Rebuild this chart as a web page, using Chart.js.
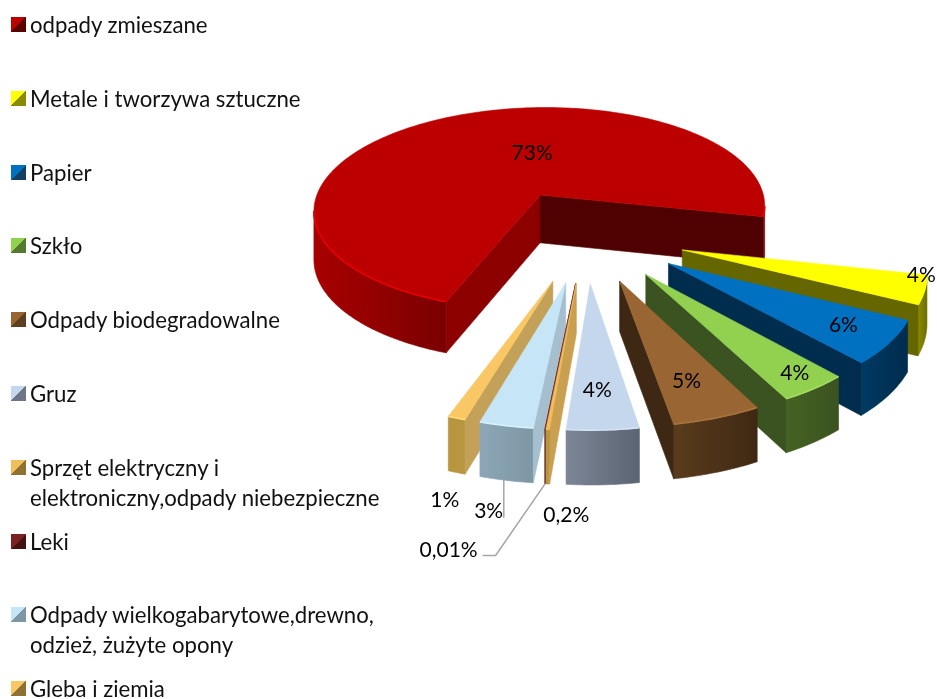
<!DOCTYPE html>
<html>
<head>
<meta charset="utf-8">
<title>Odpady</title>
<script src="https://cdn.jsdelivr.net/npm/chart.js@4"></script>
<style>
  html, body { margin: 0; background: #fff; overflow: hidden; }
  #wrap { position: relative; width: 937px; height: 699px; }
  #pie { position: absolute; left: 0; top: 0; }
  .item { position: absolute; left: 30px; font: 22.2px/30px Lato, sans-serif; color: #111; white-space: pre; }
  .item i { position: absolute; left: -19px; top: 7px; width: 15px; height: 15px; }
</style>
</head>
<body>
<div id="wrap"><canvas id="pie" width="937" height="699"></canvas></div>
<script>
const categories = [
  'odpady zmieszane',
  'Metale i tworzywa sztuczne',
  'Papier',
  'Szkło',
  'Odpady biodegradowalne',
  'Gruz',
  'Sprzęt elektryczny i\nelektroniczny,odpady niebezpieczne',
  'Leki',
  'Odpady wielkogabarytowe,drewno,\nodzież, żużyte opony',
  'Gleba i ziemia'
];
const shares = [73, 4, 6, 4, 5, 4, 0.2, 0.01, 3, 1];

// colours of each slice: top face, radial wall, outer wall (left and right end), front rim
const topColors = ['#BC0000', '#FFFF00', '#0070C0', '#92D050', '#996633', '#C5D7EC', '#F2BE5C', '#7A2222', '#C6E6F8', '#F9C764'];
const startWalls = ['#8C0000', '#666600', '#002C4D', '#3A5320', '#3F2813', '#7F8A9A', '#C9A050', '#5A1818', '#A5BFCF', '#C4A158'];
const endWalls = ['#4F0000', '#666600', '#002C4D', '#3A5320', '#3F2813', '#7F8A9A', '#7A2222', '#5A1818', '#A5BFCF', '#C4A158'];
const outerLeft = ['#A80000', '#8A8A00', '#003A63', '#466222', '#5A3C1D', '#7C8696', '#B8963F', '#5A1818', '#8CA6B7', '#B8963F'];
const outerRight = ['#7A0000', '#6E6E00', '#002C4D', '#3A5320', '#3F2813', '#5A6472', '#B8963F', '#5A1818', '#7E97A5', '#B8963F'];
const rimColors = ['#E80000', '#FFFF00', '#0070C0', '#A2DC62', '#A8743E', '#D5E3F2', '#F2BE5C', '#7A2222', '#D8F0FC', '#FFDC80'];
const swatchDark = ['#5A0000', '#8A8A00', '#133F63', '#55782F', '#5E3F1F', '#6C7686', '#8F7232', '#451212', '#7E97A5', '#8F7232'];

// where each percentage sits, measured from the tip of its slice
const labelNudges = [[-8, -42], [239, 25], [175, 62], [149, 99], [67, 100], [7, 106], [-10, 232], [-127, 267], [-77, 228], [-108, 219]];

// view settings for the tilted pie
const originX = 586, originY = 234, tilt = 0.468, persp = 0.0006;
const diskRadius = 235, explode = 100, depth = 49;
const legendTop = 10, legendStep = 73.8;

function project(X, Y) {
  const s = 1 / (1 - persp * Y);
  return { x: originX + X * s, y: originY + tilt * Y * s, s: s };
}
function drop(p) {
  return { x: p.x, y: p.y + depth * Math.sqrt(p.s) };
}
function fillPoly(ctx, pts, color) {
  ctx.beginPath();
  pts.forEach((p, i) => i ? ctx.lineTo(p.x, p.y) : ctx.moveTo(p.x, p.y));
  ctx.closePath();
  ctx.fillStyle = color;
  ctx.strokeStyle = color;
  ctx.lineWidth = 0.6;
  ctx.fill();
  ctx.stroke();
}

// turn one arc element into its projected outline
function sliceShape(arc) {
  const a0 = arc.startAngle + Math.PI / 2;
  const a1 = arc.endAngle + Math.PI / 2;
  const mid = (a0 + a1) / 2;
  const off = arc.options.offset;
  const ox = off * Math.sin(mid), oy = -off * Math.cos(mid);
  const steps = Math.max(2, Math.ceil((a1 - a0) * 180 / Math.PI));
  const rim = [];
  for (let i = 0; i <= steps; i++) {
    const t = a0 + (a1 - a0) * i / steps;
    rim.push(project(ox + diskRadius * Math.sin(t), oy - diskRadius * Math.cos(t)));
  }
  return { apex: project(ox, oy), rim: rim, depthKey: oy };
}

function drawSlice(ctx, shape, i) {
  const { apex, rim } = shape;
  const first = rim[0], last = rim[rim.length - 1];
  // outer wall, only the runs that face the viewer
  const runs = [];
  let run = [];
  const flush = () => {
    if (run.length > 1) {
      const xs = run.map(p => p.x);
      const g = ctx.createLinearGradient(Math.min(...xs), 0, Math.max(...xs), 0);
      g.addColorStop(0, outerLeft[i]);
      g.addColorStop(1, outerRight[i]);
      fillPoly(ctx, run.concat(run.slice().reverse().map(drop)), g);
      runs.push(run);
    }
    run = [];
  };
  for (let k = 0; k < rim.length - 1; k++) {
    if (rim[k + 1].x < rim[k].x) {
      if (!run.length) run.push(rim[k]);
      run.push(rim[k + 1]);
    } else {
      flush();
    }
  }
  flush();
  // radial walls
  if (first.x < apex.x) fillPoly(ctx, [apex, first, drop(first), drop(apex)], startWalls[i]);
  if (last.x > apex.x) fillPoly(ctx, [last, apex, drop(apex), drop(last)], endWalls[i]);
  // top face
  fillPoly(ctx, [apex].concat(rim), topColors[i]);
  // thin light bevel along the front edge
  ctx.strokeStyle = rimColors[i];
  ctx.lineWidth = 1.6;
  runs.forEach(r => {
    ctx.beginPath();
    r.forEach((p, k) => k ? ctx.lineTo(p.x, p.y) : ctx.moveTo(p.x, p.y));
    ctx.stroke();
  });
}

const pie3d = {
  id: 'pie3d',
  beforeDatasetsDraw(chart) {
    const ctx = chart.ctx;
    const arcs = chart.getDatasetMeta(0).data;
    const shapes = arcs.map(sliceShape);
    const order = shapes.map((s, i) => i).sort((a, b) => shapes[a].depthKey - shapes[b].depthKey);
    ctx.save();
    ctx.lineJoin = 'round';
    order.forEach(i => drawSlice(ctx, shapes[i], i));

    // percentage labels
    ctx.font = '21px Lato, sans-serif';
    ctx.textAlign = 'center';
    ctx.textBaseline = 'middle';
    const spots = shapes.map((s, i) => ({ x: s.apex.x + labelNudges[i][0], y: s.apex.y + labelNudges[i][1] }));

    // leader lines for the two labels set away from their slices
    ctx.strokeStyle = '#A6A6A6';
    ctx.lineWidth = 1.5;
    const foot = i => drop(shapes[i].rim[Math.floor(shapes[i].rim.length / 2)]);
    let f = foot(8);
    ctx.beginPath();
    ctx.moveTo(f.x, f.y);
    ctx.lineTo(f.x, spots[8].y + 7);
    ctx.stroke();
    f = foot(7);
    ctx.beginPath();
    ctx.moveTo(f.x, f.y);
    ctx.lineTo(spots[7].x + 47, spots[7].y + 5);
    ctx.lineTo(spots[7].x + 34, spots[7].y + 5);
    ctx.stroke();

    ctx.fillStyle = '#000';
    shares.forEach((v, i) => {
      ctx.fillText(String(v).replace('.', ',') + '%', spots[i].x, spots[i].y);
    });
    ctx.restore();
    return false;
  }
};

new Chart(document.getElementById('pie').getContext('2d'), {
  type: 'pie',
  data: {
    labels: categories,
    datasets: [{ data: shares, backgroundColor: topColors, offset: explode, borderWidth: 0 }]
  },
  options: {
    responsive: false,
    animation: false,
    rotation: 200,
    events: [],
    plugins: { legend: { display: false }, tooltip: { enabled: false } }
  },
  plugins: [pie3d]
});

// legend on the left
const wrap = document.getElementById('wrap');
categories.forEach((name, i) => {
  const row = document.createElement('div');
  row.className = 'item';
  row.style.top = (legendTop + i * legendStep) + 'px';
  row.textContent = name;
  const box = document.createElement('i');
  box.style.background = 'linear-gradient(135deg, ' + topColors[i] + ' 50%, ' + swatchDark[i] + ' 50%)';
  row.appendChild(box);
  wrap.appendChild(row);
});
</script>
</body>
</html>
